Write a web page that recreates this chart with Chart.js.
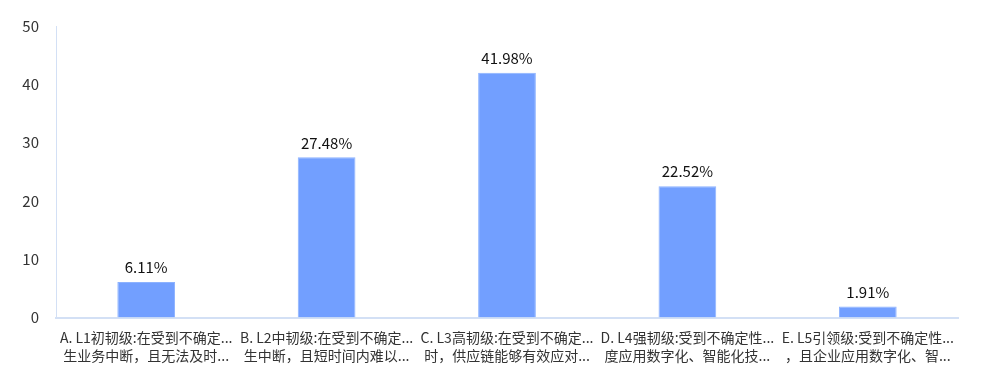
<!DOCTYPE html>
<html>
<head>
<meta charset="utf-8">
<script src="https://cdn.jsdelivr.net/npm/chart.js@4/dist/chart.umd.min.js"></script>
<style>
  html, body { margin: 0; padding: 0; background: #fff; }
  #wrap { width: 1000px; height: 381px; }
</style>
</head>
<body>
<div id="wrap"><canvas id="chart"></canvas></div>
<script>
// data
const categories = [
  ['A. L1初韧级:在受到不确定...', '生业务中断，且无法及时...'],
  ['B. L2中韧级:在受到不确定...', '生中断，且短时间内难以...'],
  ['C. L3高韧级:在受到不确定...', '时，供应链能够有效应对...'],
  ['D. L4强韧级:受到不确定性...', '度应用数字化、智能化技...'],
  ['E. L5引领级:受到不确定性...', '，且企业应用数字化、智...']
];
const percents = [6.11, 27.48, 41.98, 22.52, 1.91];
const yTicks = [0, 10, 20, 30, 40, 50];

const fontFamily = '"Noto Sans CJK SC", "Noto Sans", sans-serif';

// simple value labels on top of each bar
const valueLabels = {
  id: 'valueLabels',
  afterDatasetsDraw(chart) {
    const ctx = chart.ctx;
    const meta = chart.getDatasetMeta(0);
    ctx.save();
    ctx.font = '15px ' + fontFamily;
    ctx.fillStyle = '#111';
    ctx.textAlign = 'center';
    ctx.textBaseline = 'bottom';
    meta.data.forEach((bar, i) => {
      ctx.fillText(percents[i].toFixed(2) + '%', bar.x, bar.y - 7);
    });
    ctx.restore();
  }
};

const ctx = document.getElementById('chart').getContext('2d');
new Chart(ctx, {
  type: 'bar',
  data: {
    labels: categories,
    datasets: [{
      data: percents,
      backgroundColor: '#729fff',
      borderColor: '#8cb2ff',
      borderWidth: 1,
      categoryPercentage: 1,
      barPercentage: 0.32
    }]
  },
  options: {
    responsive: true,
    maintainAspectRatio: false,
    animation: false,
    layout: { padding: { top: 14, right: 42, bottom: 5, left: 0 } },
    plugins: {
      legend: { display: false },
      tooltip: { enabled: false }
    },
    scales: {
      x: {
        grid: { display: false, drawTicks: false },
        border: { color: '#d3e0f5', width: 2 },
        ticks: {
          color: '#333',
          font: { family: fontFamily, size: 14, lineHeight: 1.3 },
          maxRotation: 0,
          autoSkip: false,
          padding: 11
        }
      },
      y: {
        min: 0,
        max: 50,
        afterBuildTicks(axis) {
          axis.ticks = yTicks.map(v => ({ value: v }));
        },
        afterFit(axis) { axis.width = 56; },
        grid: { display: false, drawTicks: false },
        border: { color: '#d3e0f5', width: 1 },
        ticks: {
          color: '#333',
          font: { family: fontFamily, size: 15 },
          padding: 17
        }
      }
    }
  },
  plugins: [valueLabels]
});
</script>
</body>
</html>
